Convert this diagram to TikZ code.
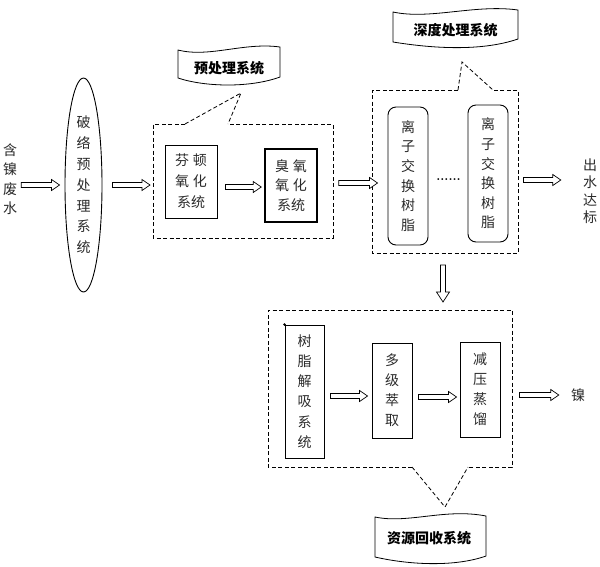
\documentclass[tikz,border=0pt]{standalone}
\usepackage{fontspec}
\newfontfamily\cjk{Noto Sans CJK SC}
\usetikzlibrary{shapes.geometric,calc}
\definecolor{txt}{HTML}{2A2A2A}
\tikzset{
  lbl/.style={font=\cjk\fontsize{14}{20}\selectfont, align=center, inner sep=0pt, text=txt},
  btxt/.style={font=\cjk\bfseries\fontsize{14}{16}\selectfont, inner sep=0pt, text=black},
  box/.style={draw, line width=0.9pt, inner sep=0pt, lbl},
  dbox/.style={draw, dash pattern=on 4pt off 2.5pt, line width=0.8pt},
  barr/.style={draw, line width=0.7pt, fill=white},
  tape/.style={draw, line width=0.8pt, fill=white},
  hole/.style={inner sep=0pt, outer sep=0pt},
}
\newcommand\harr[2]{\draw[barr] ($(#1)+(0,-2.5)$) -- ($(#2)+(-8,-2.5)$) -- ($(#2)+(-8,-5.5)$) -- (#2) -- ($(#2)+(-8,5.5)$) -- ($(#2)+(-8,2.5)$) -- ($(#1)+(0,2.5)$) -- cycle;}
\newcommand\darr[2]{\draw[barr] ($(#1)+(-2.5,0)$) -- ($(#2)+(-2.5,-10)$) -- ($(#2)+(-6.5,-10)$) -- (#2) -- ($(#2)+(6.5,-10)$) -- ($(#2)+(2.5,-10)$) -- ($(#1)+(2.5,0)$) -- cycle;}
\begin{document}
\begin{tikzpicture}[x=1pt,y=-1pt]
\useasboundingbox[fill=white] (0,0) rectangle (600,566);

% ---------- input and ellipse ----------
\node[lbl, font=\cjk\fontsize{14}{19.5}\selectfont] (inlbl) at (10,179) {含\\镍\\废\\水};
\node[draw, ellipse, line width=0.9pt, minimum width=37, minimum height=214, inner sep=0pt,
      lbl, font=\cjk\fontsize{14}{20.8}\selectfont] (ell) at (83.5,185) {破\\络\\预\\处\\理\\系\\统};

% ---------- pretreatment system ----------
\node[hole, minimum width=180, minimum height=114] (d1) at (243,181) {};
\coordinate (p1) at (241,93);
\draw[dbox] ($(d1.north west)+(32,0)$) -- (d1.north west) -- (d1.south west) -- (d1.south east) -- (d1.north east) -- ($(d1.north west)+(75,0)$);
\draw[dbox] ($(d1.north west)+(32,0)$) -- (p1) -- ($(d1.north west)+(75,0)$);
\draw[tape] (178,50) .. controls (209,58) and (244,42) .. (280,47) -- (280,77)
  .. controls (250,88) and (205,87) .. (178,78) -- cycle;
\node[btxt] (bn1) at (229,68) {预处理系统};

\node[box, minimum width=52, minimum height=73, font=\cjk\fontsize{14}{21}\selectfont] (fen) at (191,181.5) {芬\hspace{4pt}顿\\氧\hspace{4pt}化\\系统};
\node[box, line width=1.5pt, minimum width=52, minimum height=73, font=\cjk\fontsize{14}{19.5}\selectfont] (oz) at (291,185.5) {臭\hspace{4pt}氧\\氧\hspace{4pt}化\\系统};

% ---------- advanced treatment system ----------
\node[hole, minimum width=146, minimum height=163] (d2) at (445,171.5) {};
\coordinate (p2) at (462,62);
\draw[dbox] ($(d2.north west)+(86,0)$) -- (d2.north west) -- (d2.south west) -- (d2.south east) -- (d2.north east) -- ($(d2.north west)+(121,0)$);
\draw[dbox] ($(d2.north west)+(86,0)$) -- (p2) -- ($(d2.north west)+(121,0)$);
\draw[tape] (393,12) .. controls (430,20) and (475,4) .. (518,10) -- (518,39)
  .. controls (480,52) and (430,48) .. (393,42) -- cycle;
\node[btxt] (bn2) at (455.5,30) {深度处理系统};

\node[box, rounded corners=8pt, minimum width=40, minimum height=138, font=\cjk\fontsize{14}{19.6}\selectfont] (ixa) at (408,176) {离\\子\\交\\换\\树\\脂};
\node[box, rounded corners=8pt, minimum width=40, minimum height=137, font=\cjk\fontsize{14}{19.6}\selectfont] (ixb) at (488,173.5) {离\\子\\交\\换\\树\\脂};
\node[font=\bfseries\fontsize{13}{13}\selectfont, inner sep=0pt] (dots) at (448.5,180) {......};

\node[lbl, font=\cjk\fontsize{14}{17.4}\selectfont] (out) at (590,191) {出\\水\\达\\标};

% ---------- resource recovery system ----------
\node[hole, minimum width=244, minimum height=157] (d3) at (390,388.5) {};
\coordinate (p3) at (445,507);
\draw[dbox] ($(d3.south west)+(144,0)$) -- (d3.south west) -- (d3.north west) -- (d3.north east) -- (d3.south east) -- ($(d3.south west)+(200,0)$);
\draw[dbox] ($(d3.south west)+(144,0)$) -- (p3) -- ($(d3.south west)+(200,0)$);
\draw[tape] (375,517) .. controls (408,524) and (445,508) .. (486,516) -- (486,556)
  .. controls (455,567) and (410,565) .. (375,557) -- cycle;
\node[btxt] (bn3) at (429,538) {资源回收系统};

\node[box, minimum width=39, minimum height=133, font=\cjk\fontsize{14}{20.2}\selectfont] (des) at (304.5,391.5) {树\\脂\\解\\吸\\系\\统};
\fill (des.north west) circle (1.4pt);
\node[box, minimum width=40, minimum height=95, font=\cjk\fontsize{14}{20}\selectfont] (ext) at (392,390.5) {多\\级\\萃\\取};
\node[box, minimum width=40, minimum height=95, font=\cjk\fontsize{14}{20}\selectfont] (dis) at (480,389.5) {减\\压\\蒸\\馏};
\node[lbl] (ni) at (578,395) {镍};

% ---------- block arrows ----------
\coordinate (a1s) at ($(inlbl.east |- ell.center)+(4,0)$);
\coordinate (a1e) at ($(ell.west)+(-5,0)$);
\harr{a1s}{a1e}
\coordinate (a2s) at ($(ell.east)+(10,0)$);
\coordinate (a2e) at ($(d1.west |- ell.center)+(-3,0)$);
\harr{a2s}{a2e}
\coordinate (a3s) at ($(fen.east)+(8,5.5)$);
\coordinate (a3e) at ($(oz.west)+(-3,1.5)$);
\harr{a3s}{a3e}
\coordinate (a4s) at ($(oz.east)+(21,-2.5)$);
\coordinate (a4e) at ($(ixa.west)+(-10,7)$);
\harr{a4s}{a4e}
\coordinate (a5s) at ($(ixb.east)+(15,6.5)$);
\coordinate (a5e) at ($(out.west)+(-22,-11)$);
\harr{a5s}{a5e}
\coordinate (a6s) at ($(d2.south)+(-2,12)$);
\coordinate (a6e) at ($(d3.north)+(53,-8)$);
\darr{a6s}{a6e}
\coordinate (a7s) at ($(des.east)+(6,4.5)$);
\coordinate (a7e) at ($(ext.west)+(-4,5.5)$);
\harr{a7s}{a7e}
\coordinate (a8s) at ($(ext.east)+(6,6.5)$);
\coordinate (a8e) at ($(dis.west)+(-3,7.5)$);
\harr{a8s}{a8e}
\coordinate (a9s) at ($(dis.east)+(19,5.5)$);
\coordinate (a9e) at ($(ni.west)+(-12,0)$);
\harr{a9s}{a9e}
\end{tikzpicture}
\end{document}
